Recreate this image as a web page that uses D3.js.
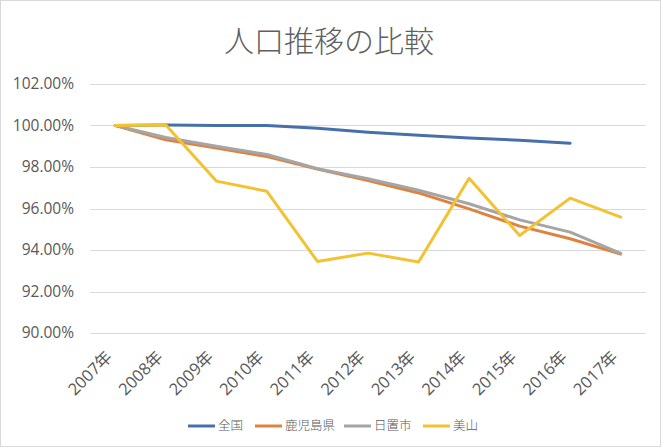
<!DOCTYPE html>
<html>
<head>
<meta charset="utf-8">
<script src="https://cdn.jsdelivr.net/npm/d3@7"></script>
<style>
  body { margin: 0; background: #fff; }
  svg { display: block; font-family: "Open Sans", "Noto Sans CJK JP", sans-serif; }
</style>
</head>
<body>
<div id="chart"></div>
<script>
var years = ["2007年","2008年","2009年","2010年","2011年","2012年","2013年","2014年","2015年","2016年","2017年"];
var zenkoku   = [100, 100.02, 100.0, 100.0, 99.87, 99.68, 99.53, 99.4, 99.29, 99.15, null];
var kagoshima = [100, 99.31, 98.92, 98.5, 97.9, 97.35, 96.75, 95.98, 95.15, 94.54, 93.8];
var hioki     = [100, 99.42, 99.0, 98.6, 97.92, 97.43, 96.88, 96.23, 95.45, 94.86, 93.84];
var miyama    = [100, 100.02, 97.32, 96.83, 93.45, 93.85, 93.42, 97.46, 94.7, 96.5, 95.58];
var yTicks = [90, 92, 94, 96, 98, 100, 102];
var seriesNames = ["全国","鹿児島県","日置市","美山"];
var colors = ["#4770ab","#e0823f","#a5a5a5","#f2c233"];

var W = 662, H = 447;
var svg = d3.select("#chart").append("svg").attr("width", W).attr("height", H);

// outer frame
svg.append("rect").attr("x", 0.5).attr("y", 0.5).attr("width", W-2).attr("height", H-1)
    .attr("fill", "#fff").attr("stroke", "#d9d9d9");

svg.append("text").attr("x", 329).attr("y", 52).attr("text-anchor", "middle")
    .attr("font-family", "'Noto Sans CJK JP', sans-serif").attr("font-weight", 300)
    .attr("font-size", 30).attr("fill", "#5f5f5f").text("人口推移の比較");

var x = d3.scaleBand().domain(years).range([90, 646]);
var y = d3.scaleLinear().domain([90, 102]).range([333, 84]);

// gridlines
svg.append("g").selectAll("line").data(yTicks).join("line")
    .attr("x1", 90).attr("x2", 646)
    .attr("y1", function(d){ return Math.round(y(d))+0.5; })
    .attr("y2", function(d){ return Math.round(y(d))+0.5; })
    .attr("stroke", "#d9d9d9").attr("stroke-width", 1);

// y labels
svg.append("g").selectAll("text").data(yTicks).join("text")
    .attr("x", 74).attr("y", function(d){ return y(d); })
    .attr("dy", "0.35em").attr("text-anchor", "end")
    .attr("font-size", 15.5).attr("fill", "#595959")
    .text(function(d){ return d.toFixed(2) + "%"; });

// x labels
svg.append("g").selectAll("text").data(years).join("text")
    .attr("text-anchor", "end").attr("font-size", 16.5).attr("fill", "#595959")
    .attr("transform", function(d){
        var cx = x(d) + x.bandwidth()/2;
        return "translate(" + (cx - 2) + ",358) rotate(-45)";
    })
    .text(function(d){ return d; });

var allSeries = [zenkoku, kagoshima, hioki, miyama];
var line = d3.line()
    .defined(function(d){ return d != null; })
    .x(function(d, i){ return x(years[i]) + x.bandwidth()/2; })
    .y(function(d){ return y(d); });

svg.append("g").selectAll("path").data(allSeries).join("path")
    .attr("d", line)
    .attr("fill", "none")
    .attr("stroke", function(d, i){ return colors[i]; })
    .attr("stroke-width", 3)
    .attr("stroke-linejoin", "round")
    .attr("stroke-linecap", "round");

// legend
var legendX = [188, 255, 344, 423];
var lg = svg.append("g").selectAll("g").data(seriesNames).join("g")
    .attr("transform", function(d, i){ return "translate(" + legendX[i] + ",426)"; });
lg.append("line").attr("x1", 0).attr("x2", 27)
    .attr("stroke", function(d, i){ return colors[i]; }).attr("stroke-width", 3);
lg.append("text").attr("x", 30).attr("dy", "0.35em")
    .attr("font-family", "'Noto Sans CJK JP', sans-serif").attr("font-weight", 300)
    .attr("font-size", 12.5).attr("fill", "#595959")
    .text(function(d){ return d; });
</script>
</body>
</html>
